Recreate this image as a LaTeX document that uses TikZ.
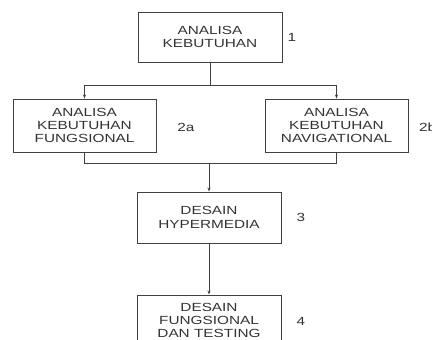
\documentclass[tikz,border=0pt]{standalone}
\usepackage{fontspec}
\setmainfont{Liberation Sans}[FakeStretch=1.3]
\usetikzlibrary{arrows.meta}

\begin{document}
\begin{tikzpicture}[x=1pt,y=-1pt,
	box/.style={rectangle,draw=black!75,line width=0.9pt,minimum width=144pt,
		align=center,text=black!80,font=\fontsize{11.8}{13.3}\selectfont,inner sep=0pt},
	num/.style={text=black!80,font=\fontsize{11.8}{13.3}\selectfont},
	line/.style={draw=black!75,line width=0.9pt},
	arr/.style={line,-{Stealth[length=4pt,width=3pt]}}]
\useasboundingbox (0,0) rectangle (432,340);
% boxes
\node [box,minimum height=50pt] (analisa) at (210,37) {ANALISA\\KEBUTUHAN};
\node [box,minimum width=143pt,minimum height=53pt] (fungsi) at (84.5,125.5) {ANALISA\\KEBUTUHAN\\FUNGSIONAL};
\node [box,minimum width=143pt,minimum height=53pt] (navig) at (336.5,125.5) {ANALISA\\KEBUTUHAN\\NAVIGATIONAL};
\node [box,minimum height=51pt] (hyper) at (209,217.5) {DESAIN\\HYPERMEDIA};
\node [box,minimum height=51pt] (testing) at (209,320.5) {DESAIN\\FUNGSIONAL\\DAN TESTING};
% numbers
\node [num] (n1) at (292,37) {1};
\node [num] (n2a) at (186,127) {2a};
\node [num,anchor=west,inner sep=0pt] (n2b) at (419,127) {2b};
\node [num] (n3) at (301,217) {3};
\node [num] (n4) at (301,321) {4};
% connectors
\coordinate (split) at (analisa.south |- 0,85);
\coordinate (join) at (hyper.north |- 0,163);
\draw [line] (analisa.south) -- (split);
\draw [arr] (split) -| (fungsi.north);
\draw [arr] (split) -| (navig.north);
\draw [line] (fungsi.south) |- (join);
\draw [line] (navig.south) |- (join);
\draw [arr] (join) -- (hyper.north);
\draw [arr] (hyper.south) -- (testing.north);
\end{tikzpicture}
\end{document}
